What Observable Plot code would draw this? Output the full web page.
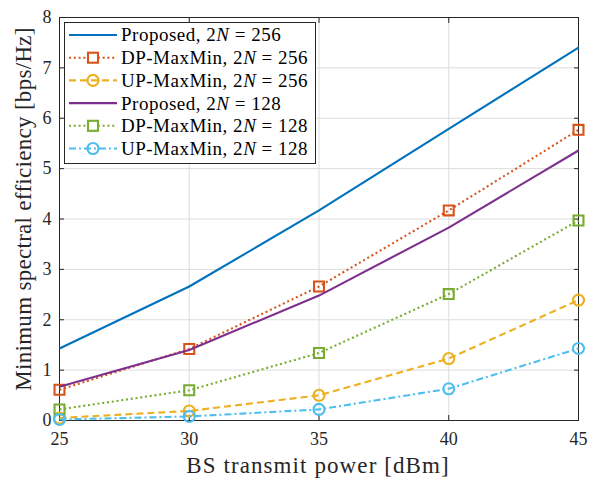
<!DOCTYPE html>
<html>
<head>
<meta charset="utf-8">
<script src="https://cdn.jsdelivr.net/npm/d3@7"></script>
<script src="https://cdn.jsdelivr.net/npm/@observablehq/plot@0.6"></script>
<style>
  html, body { margin: 0; padding: 0; background: #fff; }
  #wrap { position: relative; width: 597px; height: 478px; }
  #legend { position: absolute; left: 0; top: 0; }
  #wrap svg, #wrap svg text, #wrap svg g { font-family: 'Liberation Serif', 'DejaVu Serif', serif !important; }
</style>
</head>
<body>
<div id="wrap"></div>
<script>
const power = [25, 30, 35, 40, 45];
const proposed256 = [1.43, 2.66, 4.17, 5.79, 7.40];
const dp256 = [0.61, 1.42, 2.66, 4.17, 5.77];
const up256 = [0.05, 0.19, 0.50, 1.23, 2.39];
const proposed128 = [0.67, 1.40, 2.48, 3.83, 5.36];
const dp128 = [0.22, 0.60, 1.34, 2.51, 3.97];
const up128 = [0.02, 0.08, 0.22, 0.63, 1.43];
const xTicks = [25, 30, 35, 40, 45];
const yTicks = [0, 1, 2, 3, 4, 5, 6, 7, 8];
const xTitle = "BS transmit power [dBm]";
const yTitle = "Minimum spectral efficiency [bps/Hz]";

const series = [
  {name: "Proposed", n: "256", values: proposed256, color: "#0072BD", dash: null, marker: null},
  {name: "DP-MaxMin", n: "256", values: dp256, color: "#D95319", dash: "2,2.8", marker: "square"},
  {name: "UP-MaxMin", n: "256", values: up256, color: "#EDB120", dash: "7,4", marker: "circle"},
  {name: "Proposed", n: "128", values: proposed128, color: "#7E2F8E", dash: null, marker: null},
  {name: "DP-MaxMin", n: "128", values: dp128, color: "#77AC30", dash: "2,2.8", marker: "square"},
  {name: "UP-MaxMin", n: "128", values: up128, color: "#4DBEEE", dash: "7,3,2,3", marker: "circle"}
];

const font = "'Liberation Serif', 'DejaVu Serif', serif";
const blank = () => "";
const plain = d => String(d);
const lw = 2.1;

const marks = [
  Plot.gridX(xTicks, {stroke: "#dcdcdc", strokeOpacity: 1, strokeWidth: 1}),
  Plot.gridY(yTicks, {stroke: "#dcdcdc", strokeOpacity: 1, strokeWidth: 1}),
  Plot.axisX(xTicks, {anchor: "bottom", tickSize: -5, tickFormat: blank, stroke: "#262626", label: null}),
  Plot.axisX(xTicks, {anchor: "top", tickSize: -5, tickFormat: blank, stroke: "#262626", label: null}),
  Plot.axisY(yTicks, {anchor: "left", tickSize: -5, tickFormat: blank, stroke: "#262626", label: null}),
  Plot.axisY(yTicks, {anchor: "right", tickSize: -5, tickFormat: blank, stroke: "#262626", label: null}),
  Plot.axisX(xTicks, {anchor: "bottom", tickSize: 0, tickPadding: 12, fontSize: 18, fontFamily: font, fill: "#262626", tickFormat: plain, label: null}),
  Plot.axisY(yTicks, {anchor: "left", tickSize: 0, tickPadding: 8, fontSize: 18, fontFamily: font, fill: "#262626", tickFormat: plain, label: null}),
  Plot.frame({stroke: "#262626", strokeWidth: 1})
];

for (const s of series) {
  const data = power.map((p, i) => ({x: p, y: s.values[i]}));
  marks.push(Plot.line(data, {x: "x", y: "y", stroke: s.color, strokeWidth: lw, strokeDasharray: s.dash, strokeLinecap: "butt"}));
  if (s.marker) {
    marks.push(Plot.dot(data, {x: "x", y: "y", stroke: s.color, strokeWidth: lw, fill: "none", symbol: s.marker, r: s.marker === "square" ? 5.6 : 5.5}));
  }
}

const chart = Plot.plot({
  width: 597,
  height: 478,
  marginLeft: 59,
  marginRight: 19,
  marginTop: 17,
  marginBottom: 58,
  x: {domain: [25, 45]},
  y: {domain: [0, 8]},
  style: {fontFamily: font, background: "#fff", overflow: "visible"},
  marks
});
document.getElementById("wrap").appendChild(chart);

// Overlay: axis titles and legend
const lg = d3.select("#wrap").append("svg").attr("id", "legend")
  .attr("width", 597).attr("height", 478)
  .style("font-family", font);

lg.append("text").attr("x", 318).attr("y", 473).attr("text-anchor", "middle")
  .attr("font-size", 23).attr("letter-spacing", "1.1px").attr("fill", "#262626").text(xTitle);
lg.append("text").attr("transform", "translate(31,209) rotate(-90)").attr("text-anchor", "middle")
  .attr("font-size", 23).attr("letter-spacing", "0.3px").attr("fill", "#262626").text(yTitle);

lg.append("rect").attr("x", 64.5).attr("y", 22.5).attr("width", 251).attr("height", 141)
  .attr("fill", "#fff").attr("stroke", "#262626").attr("stroke-width", 1);
series.forEach((s, i) => {
  const y = 35 + i * 22.7;
  lg.append("line").attr("x1", 69).attr("x2", 117).attr("y1", y).attr("y2", y)
    .attr("stroke", s.color).attr("stroke-width", lw)
    .attr("stroke-dasharray", s.dash);
  if (s.marker === "square") {
    lg.append("rect").attr("x", 88).attr("y", y - 5).attr("width", 10).attr("height", 10)
      .attr("fill", "#fff").attr("stroke", s.color).attr("stroke-width", lw);
  } else if (s.marker === "circle") {
    lg.append("circle").attr("cx", 93).attr("cy", y).attr("r", 5.5)
      .attr("fill", "none").attr("stroke", s.color).attr("stroke-width", lw);
  }
  const t = lg.append("text").attr("x", 121).attr("y", y).attr("dy", "0.34em")
    .attr("font-size", 19).attr("letter-spacing", "0.5px").attr("fill", "#000");
  t.append("tspan").text(s.name + ", 2");
  t.append("tspan").attr("font-style", "italic").text("N");
  t.append("tspan").text(" = " + s.n);
});
</script>
</body>
</html>
